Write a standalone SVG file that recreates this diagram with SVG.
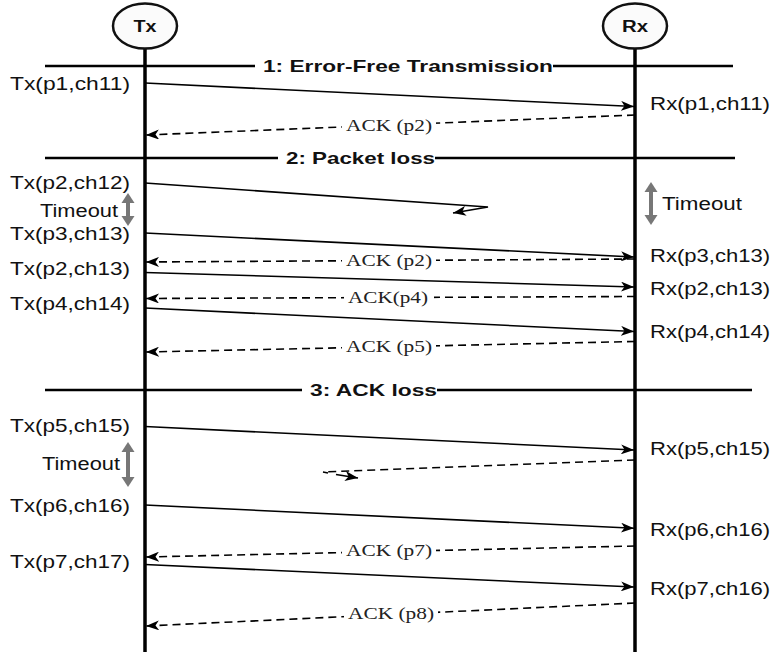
<svg xmlns="http://www.w3.org/2000/svg" width="776" height="652" viewBox="0 0 776 652">
<defs>
<marker id="ah" markerUnits="userSpaceOnUse" markerWidth="14" markerHeight="10" refX="13" refY="5" orient="auto"><path d="M0,0 L13,5 L0,10 L3.5,5 z" fill="#000"/></marker>
<marker id="gh" markerUnits="userSpaceOnUse" markerWidth="14" markerHeight="14" refX="7" refY="7" orient="auto-start-reverse"><path d="M0,0.5 L10,7 L0,13.5 z" fill="#777"/></marker>
<style>
.life{stroke:#000;stroke-width:3.5;fill:none}
.hdr{stroke:#000;stroke-width:2.5;fill:none}
.msg{stroke:#000;stroke-width:1.6;fill:none}
.ack{stroke:#000;stroke-width:1.6;fill:none;stroke-dasharray:8,5}
.to{stroke:#777;stroke-width:4;fill:none}
.lbl{font-family:"Liberation Sans",Arial,sans-serif;font-size:17.5px;fill:#111}
.hl{font-family:"Liberation Sans",Arial,sans-serif;font-size:17px;font-weight:bold;fill:#111}
.al{font-family:"Liberation Serif","Times New Roman",serif;font-size:17px;fill:#222}
.nd{font-family:"Liberation Sans",Arial,sans-serif;font-size:16px;font-weight:bold;fill:#111}
.circ{fill:#fbfbfb;stroke:#111;stroke-width:2.5}
</style>
</defs>
<rect width="776" height="652" fill="#fff"/>

<g id="tx">
<line class="life" x1="145" y1="48" x2="145" y2="652"/>
<ellipse class="circ" cx="145" cy="26" rx="32" ry="22.5"/>
<text class="nd" x="133.5" y="32" textLength="23" lengthAdjust="spacingAndGlyphs">Tx</text>
</g>
<g id="rx">
<line class="life" x1="635" y1="48" x2="635" y2="652"/>
<ellipse class="circ" cx="635" cy="26" rx="32" ry="22.5"/>
<text class="nd" x="622" y="32" textLength="26" lengthAdjust="spacingAndGlyphs">Rx</text>
</g>

<g id="sections">
<line class="hdr" x1="45" y1="66" x2="255" y2="66"/>
<line class="hdr" x1="553" y1="66" x2="733" y2="66"/>
<text class="hl" x="263" y="72" textLength="290" lengthAdjust="spacingAndGlyphs">1: Error-Free Transmission</text>
<line class="hdr" x1="45" y1="158" x2="278" y2="158"/>
<line class="hdr" x1="435" y1="158" x2="735" y2="158"/>
<text class="hl" x="286" y="164" textLength="149" lengthAdjust="spacingAndGlyphs">2: Packet loss</text>
<line class="hdr" x1="45" y1="390" x2="302" y2="390"/>
<line class="hdr" x1="437" y1="390" x2="752" y2="390"/>
<text class="hl" x="310" y="396" textLength="127" lengthAdjust="spacingAndGlyphs">3: ACK loss</text>
</g>

<g id="connectors">
<line class="msg" x1="145" y1="83" x2="634" y2="106.5" marker-end="url(#ah)"/>
<line class="ack" x1="635" y1="115" x2="146" y2="135" marker-end="url(#ah)"/>
<path class="msg" d="M145,183 L488,207 L453,213" marker-end="url(#ah)"/>
<line class="msg" x1="145" y1="233" x2="634" y2="257" marker-end="url(#ah)"/>
<line class="ack" x1="635" y1="259" x2="146" y2="262" marker-end="url(#ah)"/>
<line class="msg" x1="145" y1="272.5" x2="634" y2="287" marker-end="url(#ah)"/>
<line class="ack" x1="635" y1="296.5" x2="146" y2="298.5" marker-end="url(#ah)"/>
<line class="msg" x1="145" y1="308" x2="634" y2="331.5" marker-end="url(#ah)"/>
<line class="ack" x1="635" y1="341.5" x2="146" y2="352" marker-end="url(#ah)"/>
<line class="msg" x1="145" y1="426.5" x2="634" y2="450" marker-end="url(#ah)"/>
<path class="ack" d="M635,460 L323,472"/>
<path class="msg" d="M323,472 L328,473" />
<path class="msg" d="M336,474.5 L358,478" marker-end="url(#ah)"/>
<line class="msg" x1="145" y1="505" x2="634" y2="528.3" marker-end="url(#ah)"/>
<line class="ack" x1="635" y1="546" x2="146" y2="557" marker-end="url(#ah)"/>
<line class="msg" x1="145" y1="564.5" x2="634" y2="587" marker-end="url(#ah)"/>
<line class="ack" x1="635" y1="603" x2="146" y2="626" marker-end="url(#ah)"/>
<line class="to" x1="128" y1="196" x2="128" y2="223" marker-start="url(#gh)" marker-end="url(#gh)"/>
<line class="to" x1="651" y1="185" x2="651" y2="222" marker-start="url(#gh)" marker-end="url(#gh)"/>
<line class="to" x1="128" y1="445" x2="128" y2="484" marker-start="url(#gh)" marker-end="url(#gh)"/>
</g>

<g id="ack-labels">
<rect x="342" y="116" width="94" height="18" fill="#fff"/>
<text class="al" x="346" y="130.5" textLength="86" lengthAdjust="spacingAndGlyphs">ACK (p2)</text>
<rect x="342" y="251" width="94" height="18" fill="#fff"/>
<text class="al" x="346" y="265.5" textLength="86" lengthAdjust="spacingAndGlyphs">ACK (p2)</text>
<rect x="344" y="288" width="90" height="18" fill="#fff"/>
<text class="al" x="348" y="302.5" textLength="80" lengthAdjust="spacingAndGlyphs">ACK(p4)</text>
<rect x="342" y="337" width="94" height="18" fill="#fff"/>
<text class="al" x="346" y="351.5" textLength="86" lengthAdjust="spacingAndGlyphs">ACK (p5)</text>
<rect x="342" y="541" width="94" height="18" fill="#fff"/>
<text class="al" x="346" y="555.5" textLength="86" lengthAdjust="spacingAndGlyphs">ACK (p7)</text>
<rect x="344" y="604" width="94" height="18" fill="#fff"/>
<text class="al" x="348" y="619" textLength="86" lengthAdjust="spacingAndGlyphs">ACK (p8)</text>
</g>

<g id="tx-labels">
<text class="lbl" x="10" y="89.5" textLength="120" lengthAdjust="spacingAndGlyphs">Tx(p1,ch11)</text>
<text class="lbl" x="10" y="188.5" textLength="120" lengthAdjust="spacingAndGlyphs">Tx(p2,ch12)</text>
<text class="lbl" x="40" y="216.5" textLength="78" lengthAdjust="spacingAndGlyphs">Timeout</text>
<text class="lbl" x="10" y="239.5" textLength="120" lengthAdjust="spacingAndGlyphs">Tx(p3,ch13)</text>
<text class="lbl" x="10" y="274.5" textLength="120" lengthAdjust="spacingAndGlyphs">Tx(p2,ch13)</text>
<text class="lbl" x="10" y="309.5" textLength="120" lengthAdjust="spacingAndGlyphs">Tx(p4,ch14)</text>
<text class="lbl" x="10" y="431.5" textLength="120" lengthAdjust="spacingAndGlyphs">Tx(p5,ch15)</text>
<text class="lbl" x="42" y="469.5" textLength="78" lengthAdjust="spacingAndGlyphs">Timeout</text>
<text class="lbl" x="10" y="511.5" textLength="120" lengthAdjust="spacingAndGlyphs">Tx(p6,ch16)</text>
<text class="lbl" x="10" y="567.5" textLength="120" lengthAdjust="spacingAndGlyphs">Tx(p7,ch17)</text>
</g>

<g id="rx-labels">
<text class="lbl" x="650" y="109.5" textLength="120" lengthAdjust="spacingAndGlyphs">Rx(p1,ch11)</text>
<text class="lbl" x="662" y="209.5" textLength="80" lengthAdjust="spacingAndGlyphs">Timeout</text>
<text class="lbl" x="650" y="261.5" textLength="120" lengthAdjust="spacingAndGlyphs">Rx(p3,ch13)</text>
<text class="lbl" x="650" y="294.5" textLength="120" lengthAdjust="spacingAndGlyphs">Rx(p2,ch13)</text>
<text class="lbl" x="650" y="337.5" textLength="120" lengthAdjust="spacingAndGlyphs">Rx(p4,ch14)</text>
<text class="lbl" x="650" y="454.5" textLength="120" lengthAdjust="spacingAndGlyphs">Rx(p5,ch15)</text>
<text class="lbl" x="650" y="535.5" textLength="120" lengthAdjust="spacingAndGlyphs">Rx(p6,ch16)</text>
<text class="lbl" x="650" y="594.5" textLength="120" lengthAdjust="spacingAndGlyphs">Rx(p7,ch16)</text>
</g>
</svg>
